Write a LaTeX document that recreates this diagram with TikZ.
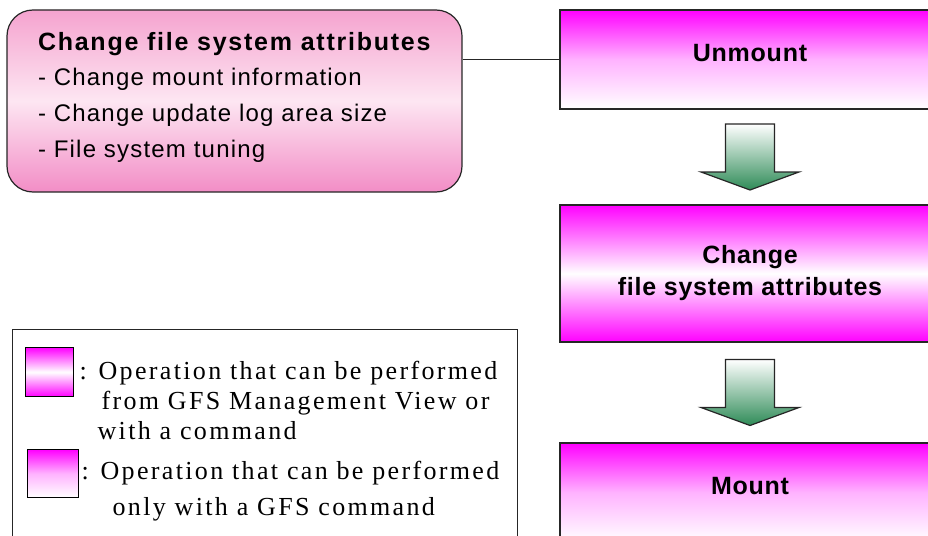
\documentclass[tikz,border=0pt]{standalone}
\usepackage{fontspec}
\setmainfont{Liberation Serif}
\setsansfont{Liberation Sans}
\newfontfamily\opfont[LetterSpace=3]{Liberation Sans}
\newfontfamily\attrfont[LetterSpace=5]{Liberation Sans}
\newfontfamily\attrtitlefont[LetterSpace=7]{Liberation Sans}
\newfontfamily\legendfont[LetterSpace=9]{Liberation Serif}
\usetikzlibrary{positioning,calc}

\definecolor{gfsmagenta}{RGB}{255,0,255}
\definecolor{attrpink}{RGB}{245,163,207}
\definecolor{attrlight}{RGB}{253,230,242}
\definecolor{attrdeep}{RGB}{242,141,198}
\definecolor{flowgreen}{RGB}{46,139,87}

\begin{document}
\begin{tikzpicture}[x=1pt, y=-1pt, line width=1.2pt,
  attrbox/.style={draw=black!85, rounded corners=26pt, minimum width=455pt, minimum height=182pt,
    top color=attrpink, bottom color=attrdeep, middle color=attrlight},
  opbox/.style={draw=black!85, minimum width=380pt, align=center, inner sep=0pt,
    font=\opfont\bfseries\fontsize{25}{32}\selectfont},
  viewop/.style={top color=gfsmagenta, bottom color=gfsmagenta, middle color=white},
  cmdop/.style={top color=gfsmagenta, bottom color=white, middle color=gfsmagenta!30},
  onerow/.style={text height=17pt, text depth=14pt},
  flowarrow/.style={draw=black!85, top color=white, bottom color=flowgreen},
  legendtext/.style={anchor=north west, align=left, inner sep=0pt,
    font=\legendfont\fontsize{26}{30}\selectfont}]
\useasboundingbox (0,0) rectangle (928,535);
\clip (0,0) rectangle (928,535);

% attributes that can be changed
\node[attrbox] (attr) at (234.5,101) {};
\node[anchor=west, align=left, inner sep=0pt, font=\attrfont\fontsize{24}{35.7}\selectfont]
  (attrtext) at ($(attr.west)+(31,-4)$)
  {{\attrtitlefont\bfseries\fontsize{25}{35.7}\selectfont Change file system attributes}\\
   - Change mount information\\
   - Change update log area size\\
   - File system tuning};

% operation flow
\node[opbox, cmdop, onerow, minimum height=99pt] (unmount) at (750,59.5) {Unmount};
\node[opbox, viewop, minimum height=137pt] (change) at (750,273.5) {Change\\file system attributes};
\node[opbox, cmdop, onerow, minimum height=99pt] (mount) at (750,492.5) {Mount};
\draw[black!85] (attr.east |- unmount.west) -- (unmount.west);

\coordinate (gap1) at ($(unmount.south)!0.5!(change.north)$);
\coordinate (gap2) at ($(change.south)!0.5!(mount.north)$);
\shade[flowarrow] ($(gap1)+(-24.5,-33)$) -- ++(49,0) -- ++(0,48) -- ++(24.5,0)
  -- ++(-49,18) -- ++(-49,-18) -- ++(24.5,0) -- cycle;
\shade[flowarrow] ($(gap2)+(-24.5,-33)$) -- ++(49,0) -- ++(0,48) -- ++(24.5,0)
  -- ++(-49,18) -- ++(-49,-18) -- ++(24.5,0) -- cycle;

% legend
\node[draw=black!85, anchor=north west, minimum width=505pt, minimum height=240pt] (legend) at (12,329) {};
\node[draw=black, viewop, anchor=north west, minimum width=48pt, minimum height=49pt] (swatchview) at (25,347) {};
\node[draw=black, cmdop, anchor=north west, minimum width=51pt, minimum height=48pt] (swatchcmd) at (27,449) {};
\node[legendtext] (textview) at (79,361)
  {: Operation that can be performed\\
   \hspace*{22pt}from GFS Management View or\\
   \hspace*{18pt}with a command};
\node[legendtext, font=\legendfont\fontsize{26}{36}\selectfont] (textcmd) at (81,461)
  {: Operation that can be performed\\
   \hspace*{31pt}only with a GFS command};
\end{tikzpicture}
\end{document}
